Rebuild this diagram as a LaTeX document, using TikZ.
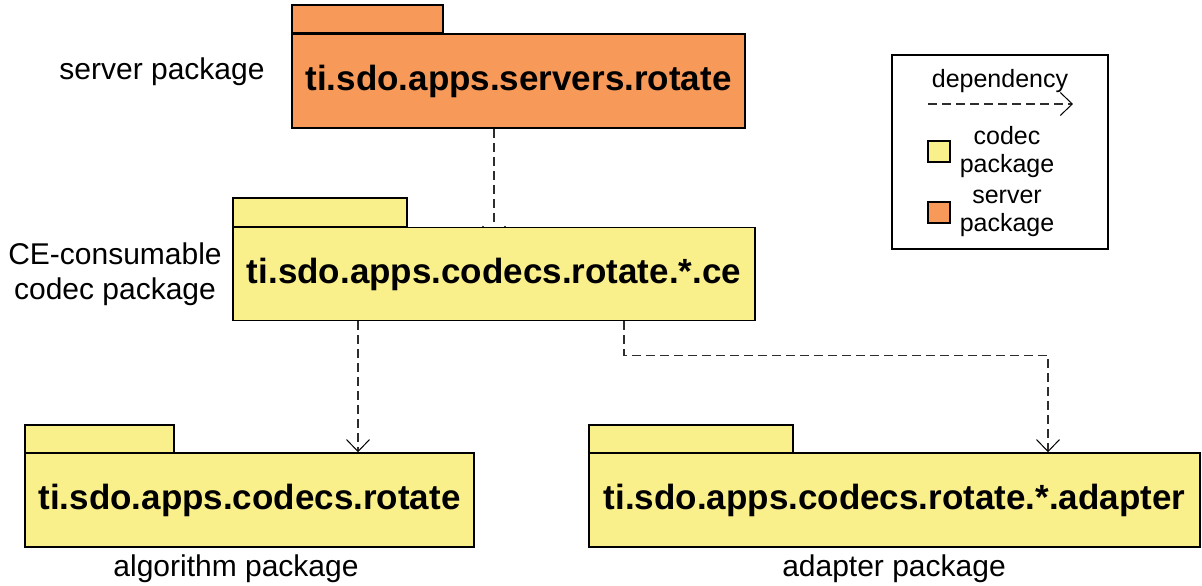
\documentclass[tikz,border=0pt]{standalone}
\usepackage{fontspec}
\setmainfont{Liberation Sans}
\usetikzlibrary{arrows.meta,backgrounds}

\definecolor{srvorange}{RGB}{247,153,89}
\definecolor{codecyellow}{RGB}{249,239,139}
\definecolor{depgray}{RGB}{45,45,45}

\tikzset{
  pkgbody/.style={draw=black, line width=1.5pt, inner sep=0pt,
    font=\fontsize{35}{42}\selectfont\bfseries},
  pkgtab/.style={draw=black, line width=1.5pt, inner sep=0pt},
  codecpkg/.style={fill=codecyellow},
  serverpkg/.style={fill=srvorange},
  caption/.style={font=\fontsize{30}{35}\selectfont, align=center, inner sep=0pt},
  legendtext/.style={font=\fontsize{25}{28}\selectfont, align=center, inner sep=0pt},
  dep/.style={draw=depgray, line width=1.1pt, dash pattern=on 9pt off 5pt,
    -{Straight Barb[length=12pt,width=23pt,line width=1pt,color=black]}},
  swatch/.style={draw=black, line width=1.2pt, minimum width=22pt, minimum height=21pt, inner sep=0pt}
}

\begin{document}
\begin{tikzpicture}[x=1pt,y=-1pt]
\useasboundingbox (0,0) rectangle (1202,586);

% server package
\node[pkgtab, serverpkg, minimum width=151pt, minimum height=28pt] (srvtab) at (367.5,19) {};
\node[pkgbody, serverpkg, minimum width=453pt, minimum height=94pt] (srv) at (518.5,81) {ti.sdo.apps.servers.rotate};

% CE-consumable codec package
\node[pkgtab, codecpkg, minimum width=174pt, minimum height=29pt] (cetab) at (320,212.5) {};
\node[pkgbody, codecpkg, minimum width=522pt, minimum height=93pt] (ce) at (494,274) {ti.sdo.apps.codecs.rotate.*.ce};

% algorithm package
\node[pkgtab, codecpkg, minimum width=149pt, minimum height=28pt] (algtab) at (99.5,439) {};
\node[pkgbody, codecpkg, minimum width=449pt, minimum height=94pt] (alg) at (249.5,500) {ti.sdo.apps.codecs.rotate};

% adapter package
\node[pkgtab, codecpkg, minimum width=204pt, minimum height=28pt] (adptab) at (691,439) {};
\node[pkgbody, codecpkg, minimum width=611pt, minimum height=94pt] (adp) at (894.5,500) {ti.sdo.apps.codecs.rotate.*.adapter};

% captions
\node[caption] (srvcap) at (162,72) {server package};
\node[caption] (cecap) at (115,274) {CE-consumable\\codec package};
\node[caption] (algcap) at (236,569) {algorithm package};
\node[caption] (adpcap) at (894,569) {adapter package};

% legend
\node[draw=black, line width=1.2pt, minimum width=216pt, minimum height=194pt, inner sep=0pt] (legend) at (1000,152) {};
\node[legendtext] (legdep) at (1000,81) {dependency};
\coordinate (legA) at (928,104);
\coordinate (legB) at (1073,104);
\node[swatch, fill=codecyellow] (swcodec) at (939,151.5) {};
\node[legendtext] (legcodec) at (1007,152) {codec\\package};
\node[swatch, fill=srvorange] (swsrv) at (939,212.5) {};
\node[legendtext] (legsrv) at (1007,213) {server\\package};

% connector columns
\coordinate (c0) at (494,0);
\coordinate (c1) at (358,0);
\coordinate (c2) at (624,0);
\coordinate (c3) at (1048,0);

% the head of this dependency sits behind the codec package body
\begin{scope}[on background layer]
  \draw[dep] (srv.south -| c0) -- ([yshift=-12pt]ce.north -| c0);
\end{scope}
\draw[dep] (ce.south -| c1) -- (alg.north -| c1);
\draw[dep] (ce.south -| c2) -- ++(0,34) -| (adp.north -| c3);
\draw[dep] (legA) -- (legB);
\end{tikzpicture}
\end{document}
